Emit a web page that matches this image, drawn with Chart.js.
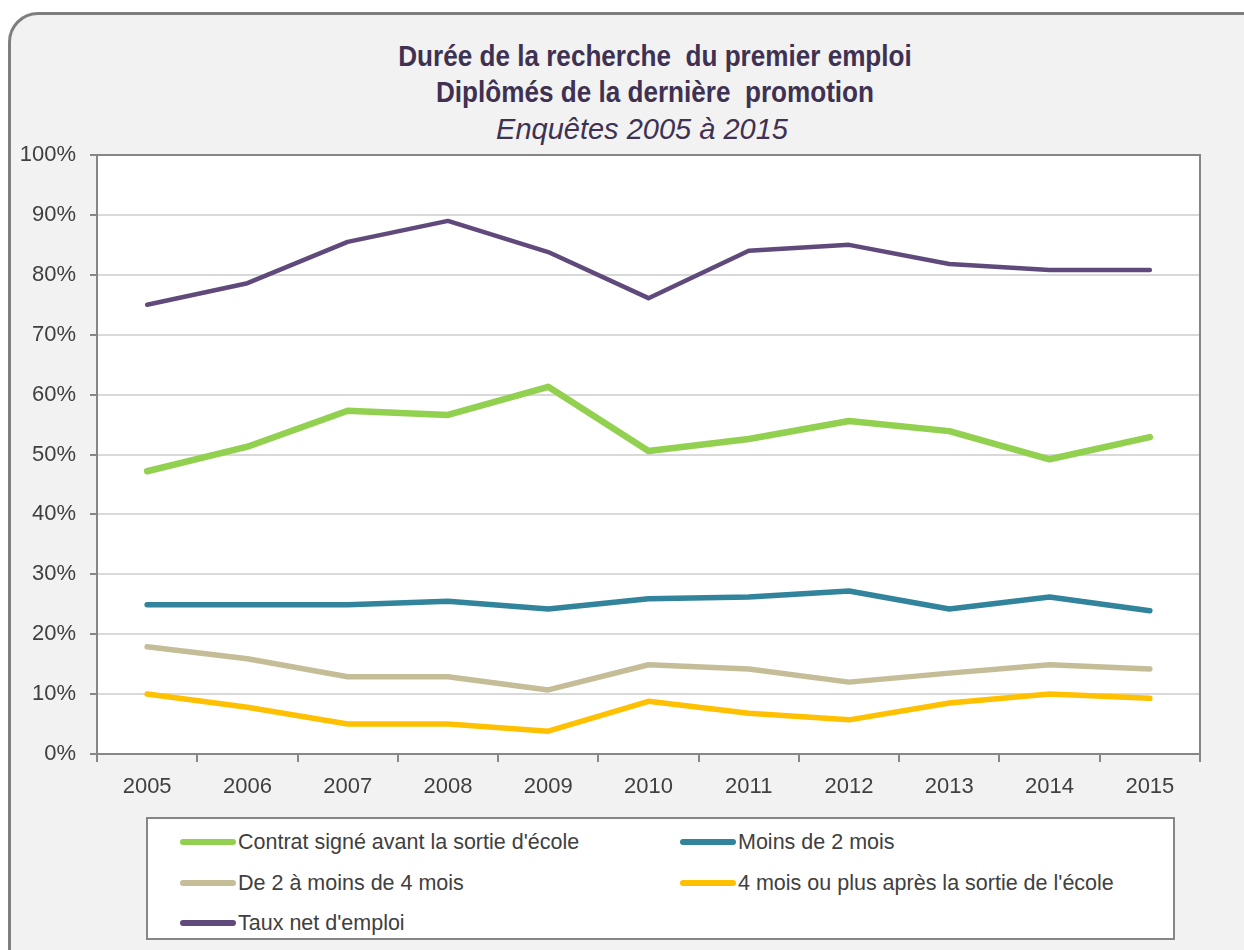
<!DOCTYPE html>
<html lang="fr">
<head>
<meta charset="utf-8">
<script src="https://cdn.jsdelivr.net/npm/chart.js@4"></script>
<style>
  html,body{margin:0;padding:0;background:#fff;overflow:hidden}
  body{width:1244px;height:950px;position:relative;font-family:'Liberation Sans Narrow','Liberation Sans',Arial,sans-serif}
  #frame{position:absolute;left:8px;top:12px;width:1300px;height:1000px;border:3px solid #7f7f7f;border-radius:30px;background:#f2f2f2;box-sizing:border-box}
  #title{position:absolute;left:0;top:38px;width:1310px;text-align:center;color:#3f3151;line-height:36px}
  #title b{display:block;font-weight:bold;font-size:30px;transform:scaleX(0.87)}
  #title i{display:block;font-style:italic;font-size:29px;margin-top:1px;position:relative;left:-13px}
  #wrap{position:absolute;left:0;top:0;width:1244px;height:950px}
  #legend{position:absolute;left:146px;top:817px;width:1029px;height:123px;background:#fff;border:2px solid #868686;box-sizing:border-box;color:#404040;font-size:21.5px}
  .it{position:absolute;display:flex;align-items:center;height:30px;white-space:nowrap}
  .sw{width:56px;height:6px;border-radius:3px;margin-right:2px}
</style>
</head>
<body>
<div id="frame"></div>
<div id="title"><b>Durée de la recherche &nbsp;du premier emploi</b><b>Diplômés de la dernière &nbsp;promotion</b><i>Enquêtes 2005 à 2015</i></div>
<div id="wrap"><canvas id="c" width="1244" height="950"></canvas></div>
<div id="legend"></div>
<script>
const years = ['2005','2006','2007','2008','2009','2010','2011','2012','2013','2014','2015'];
const contrat = [47.2, 51.3, 57.3, 56.6, 61.3, 50.6, 52.6, 55.6, 53.9, 49.2, 52.9];
const moins2 = [24.9, 24.9, 24.9, 25.5, 24.2, 25.9, 26.2, 27.2, 24.2, 26.2, 23.9];
const de2a4 = [17.9, 15.9, 12.9, 12.9, 10.7, 14.9, 14.2, 12.0, 13.5, 14.9, 14.2];
const plus4 = [10.0, 7.8, 5.0, 5.0, 3.8, 8.8, 6.8, 5.7, 8.5, 10.0, 9.3];
const tauxNet = [75.0, 78.6, 85.5, 89.0, 83.8, 76.1, 84.0, 85.0, 81.8, 80.8, 80.8];
const yTicks = [0,10,20,30,40,50,60,70,80,90,100];

const series = [
  {label:"Contrat signé avant la sortie d'école", data:contrat, color:'#92d050', w:6.5},
  {label:'Moins de 2 mois', data:moins2, color:'#31849b', w:5.5},
  {label:'De 2 à moins de 4 mois', data:de2a4, color:'#c4bd97', w:5.5},
  {label:"4 mois ou plus après la sortie de l'école", data:plus4, color:'#ffc000', w:5.5},
  {label:"Taux net d'emploi", data:tauxNet, color:'#604a7b', w:4.5}
];

const FONT = "'Liberation Sans Narrow','Liberation Sans',Arial,sans-serif";

// fond blanc + cadre gris de la zone de tracé
const plotBox = {
  id:'plotBox',
  beforeDraw(ch){
    const a = ch.chartArea, x = ch.ctx;
    x.save(); x.fillStyle = '#fff'; x.fillRect(a.left, a.top, a.right-a.left, a.bottom-a.top); x.restore();
  },
  afterDraw(ch){
    const a = ch.chartArea, x = ch.ctx;
    x.save(); x.strokeStyle = '#868686'; x.lineWidth = 2;
    x.strokeRect(a.left, a.top, a.right-a.left, a.bottom-a.top);
    x.restore();
  }
};

new Chart(document.getElementById('c'), {
  type:'line',
  data:{labels:years, datasets:series.map(s=>({label:s.label, data:s.data, borderColor:s.color, backgroundColor:s.color,
    borderWidth:s.w, pointRadius:0, tension:0, borderCapStyle:'round', borderJoinStyle:'round'}))},
  options:{
    responsive:false, animation:false,
    layout:{padding:{left:0, right:44, top:155, bottom:0}},
    plugins:{legend:{display:false}, title:{display:false}, tooltip:{enabled:false}},
    scales:{
      x:{offset:true,
        grid:{drawOnChartArea:false, offset:true, tickLength:8, tickColor:'#868686', lineWidth:2},
        border:{color:'#868686', width:2},
        ticks:{color:'#404040', font:{family:FONT, size:22}, padding:12},
        afterFit(s){ s.height = 196; }},
      y:{min:0, max:100,
        afterBuildTicks(s){ s.ticks = yTicks.map(v=>({value:v})); },
        grid:{color:'#d9d9d9', lineWidth:2, tickLength:7, tickColor:'#868686'},
        border:{color:'#868686', width:2},
        ticks:{color:'#404040', font:{family:FONT, size:22}, padding:14, callback:v=>v+'%'},
        afterFit(s){ s.width = 97; }}
    }
  },
  plugins:[plotBox]
});

// légende encadrée sur deux colonnes
const lg = document.getElementById('legend');
const pos = [[32,8],[532,8],[32,49],[532,49],[32,89]];
series.forEach((s,i)=>{
  const d = document.createElement('div'); d.className='it';
  d.style.left = pos[i][0]+'px'; d.style.top = pos[i][1]+'px';
  d.innerHTML = '<span class="sw" style="background:'+s.color+'"></span><span>'+s.label+'</span>';
  lg.appendChild(d);
});
</script>
</body>
</html>
